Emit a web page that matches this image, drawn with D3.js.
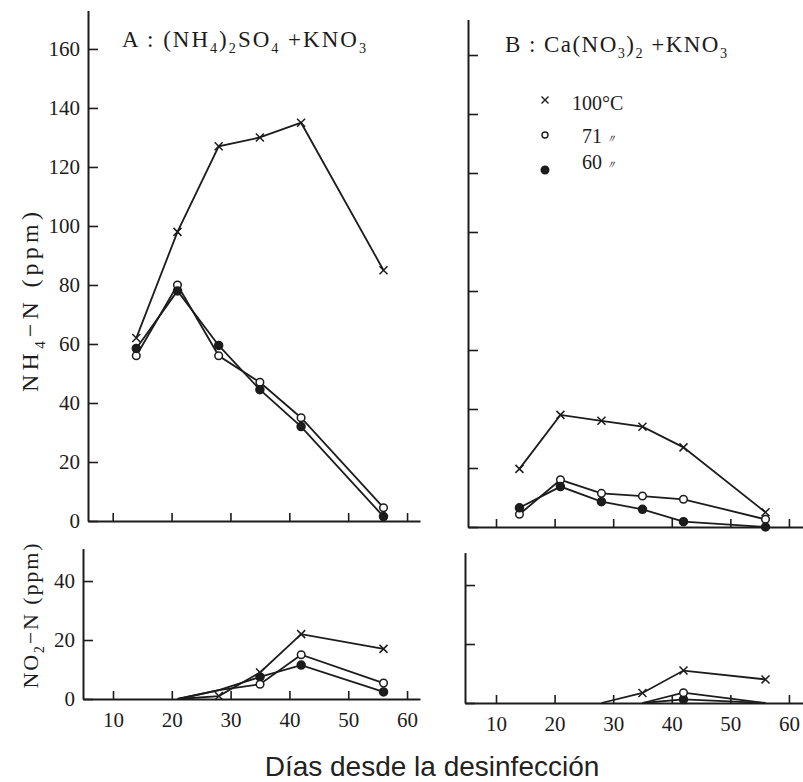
<!DOCTYPE html>
<html><head><meta charset="utf-8">
<script src="https://cdn.jsdelivr.net/npm/d3@7"></script>
<style>html,body{margin:0;padding:0;background:#fff;}svg{display:block;}</style>
</head><body><div id="chart"></div>
<script>
// ---- data ----
const days = [14, 21, 28, 35, 42, 56];
const xTicks = [10, 20, 30, 40, 50, 60];
const nh4Ticks = [0, 20, 40, 60, 80, 100, 120, 140, 160];
const no2Ticks = [0, 20, 40];
const seriesNames = ["100°C", "71", "60"];

const A_NH4_100 = [62, 98, 127, 130, 135, 85];
const A_NH4_71  = [56, 80, 56, 47, 35, 4.5];
const A_NH4_60  = [58.5, 78, 59.5, 44.5, 32, 1.5];

const B_NH4_100 = [19.7, 38, 36, 34, 27, 5];
const B_NH4_71  = [4.3, 16, 11.4, 10.5, 9.4, 2.6];
const B_NH4_60  = [6.5, 13.7, 8.6, 6, 1.8, 0];

const A_NO2_days = [21, 28, 35, 42, 56];
const A_NO2_100 = [0, 1, 9, 22, 17];
const A_NO2_71  = [0, 3, 5, 15, 5.4];
const A_NO2_60  = [0, 3, 7.5, 11.5, 2.4];

const B_NO2_days100 = [28, 35, 42, 56];
const B_NO2_100 = [0, 3.4, 11, 8];
const B_NO2_days = [35, 42, 56];
const B_NO2_71  = [0, 3.5, 0];
const B_NO2_60  = [0, 1.2, 0];

// ---- drawing ----
const W = 803, H = 782;
const ink = "#1c1c1c";
const serif = "'Liberation Serif','Times New Roman',serif";
const svg = d3.select("#chart").append("svg").attr("width", W).attr("height", H)
  .style("background", "#fff");

function panel(cfg) {
  const x = d3.scaleLinear().domain(cfg.xd).range(cfg.xr);
  const y = d3.scaleLinear().domain(cfg.yd).range(cfg.yr);
  const gx = svg.append("g").attr("transform", `translate(0,${cfg.yr[0]})`)
    .call(d3.axisBottom(x).tickValues(xTicks).tickSizeInner(-8).tickSizeOuter(0)
      .tickPadding(13).tickFormat(cfg.xLabels ? d3.format("d") : ""));
  const gy = svg.append("g").attr("transform", `translate(${cfg.xr[0]},0)`)
    .call(d3.axisLeft(y).tickValues(cfg.yTicks).tickSizeInner(-10).tickSizeOuter(0)
      .tickPadding(8).tickFormat(cfg.yLabels ? d3.format("d") : ""));
  [gx, gy].forEach(g => {
    g.select(".domain").attr("stroke", ink).attr("stroke-width", 2);
    g.selectAll(".tick line").attr("stroke", ink).attr("stroke-width", 1.6);
    g.selectAll(".tick text").attr("fill", ink).style("font-family", serif).style("font-size", "21px");
  });
  return {x, y};
}

// markers drawn for points with value > 0 and day >= fromDay
function series(p, xs, ys, kind, fromDay) {
  const pts = xs.map((d, i) => [d, ys[i]]);
  svg.append("path").datum(pts)
    .attr("d", d3.line().x(d => p.x(d[0])).y(d => p.y(d[1])))
    .attr("fill", "none").attr("stroke", ink).attr("stroke-width", 1.8);
  const mp = fromDay !== undefined ? pts.filter(d => d[1] > 0 && d[0] >= fromDay) : pts;
  const g = svg.append("g");
  mp.forEach(d => {
    const cx = p.x(d[0]), cy = p.y(d[1]);
    if (kind === "x") {
      const s = 4;
      g.append("path").attr("d", `M${cx-s},${cy-s}L${cx+s},${cy+s}M${cx-s},${cy+s}L${cx+s},${cy-s}`)
        .attr("stroke", ink).attr("stroke-width", 1.5).attr("fill", "none");
    } else {
      g.append("circle").attr("cx", cx).attr("cy", cy).attr("r", kind === "o" ? 3.8 : 4)
        .attr("fill", kind === "o" ? "#fff" : ink).attr("stroke", ink).attr("stroke-width", 1.5);
    }
  });
}

const pA = panel({xd: [5.8, 62.2], xr: [88, 420], yd: [0, 173], yr: [521, 10.6], yTicks: nh4Ticks, yLabels: true, xLabels: false});
const pAb = panel({xd: [4.9, 62.2], xr: [83, 420], yd: [0, 51], yr: [699, 548.6], yTicks: no2Ticks, yLabels: true, xLabels: true});
const pB = panel({xd: [5.22, 62.4], xr: [468, 803], yd: [0, 172], yr: [527, 19.6], yTicks: nh4Ticks, yLabels: false, xLabels: false});
const pBb = panel({xd: [4.71, 62.4], xr: [465, 803], yd: [0, 51], yr: [703, 552.6], yTicks: no2Ticks, yLabels: false, xLabels: true});

series(pA, days, A_NH4_100, "x");
series(pA, days, A_NH4_71, "o");
series(pA, days, A_NH4_60, "f");
series(pB, days, B_NH4_100, "x");
series(pB, days, B_NH4_71, "o");
series(pB, days, B_NH4_60, "f");
series(pAb, A_NO2_days, A_NO2_100, "x", 0);
series(pAb, A_NO2_days, A_NO2_60, "f", 35);
series(pAb, A_NO2_days, A_NO2_71, "o", 35);
series(pBb, B_NO2_days100, B_NO2_100, "x", 0);
series(pBb, B_NO2_days, B_NO2_60, "f", 0);
series(pBb, B_NO2_days, B_NO2_71, "o", 0);

// rich text helper: parts = [[text, isSub]]
function rich(t, parts, size) {
  let sub = false;
  parts.forEach(([s, isSub]) => {
    const ts = t.append("tspan").text(s);
    if (isSub && !sub) { ts.attr("dy", size * 0.28).style("font-size", (size * 0.62) + "px"); sub = true; }
    else if (isSub) { ts.style("font-size", (size * 0.62) + "px"); }
    else if (!isSub && sub) { ts.attr("dy", -size * 0.28); sub = false; }
  });
}

const tA = svg.append("text").attr("x", 122).attr("y", 47).attr("fill", ink)
  .attr("textLength", 244).attr("lengthAdjust", "spacing")
  .style("font-family", serif).style("font-size", "23px");
rich(tA, [["A : (NH", 0], ["4", 1], [")", 0], ["2", 1], ["SO", 0], ["4", 1], [" +KNO", 0], ["3", 1]], 23);
const tB = svg.append("text").attr("x", 505).attr("y", 52).attr("fill", ink)
  .attr("textLength", 222).attr("lengthAdjust", "spacing")
  .style("font-family", serif).style("font-size", "23px");
rich(tB, [["B : Ca(NO", 0], ["3", 1], [")", 0], ["2", 1], [" +KNO", 0], ["3", 1]], 23);

// y labels
const yl1 = svg.append("text").attr("transform", "translate(38,302) rotate(-90)")
  .attr("text-anchor", "middle").attr("textLength", 180).attr("lengthAdjust", "spacing")
  .attr("fill", ink).style("font-family", serif).style("font-size", "24px");
rich(yl1, [["NH", 0], ["4", 1], ["−N (ppm)", 0]], 24);
const yl2 = svg.append("text").attr("transform", "translate(38,616) rotate(-90)")
  .attr("text-anchor", "middle").attr("textLength", 145).attr("lengthAdjust", "spacing")
  .attr("fill", ink).style("font-family", serif).style("font-size", "22px");
rich(yl2, [["NO", 0], ["2", 1], ["−N (ppm)", 0]], 22);

// legend
const legY = [100, 135, 170];
const legKinds = ["x", "o", "f"];
legKinds.forEach((k, i) => {
  const cx = 545, cy = legY[i];
  if (k === "x") {
    const s = 3.5;
    svg.append("path").attr("d", `M${cx-s},${cy-s}L${cx+s},${cy+s}M${cx-s},${cy+s}L${cx+s},${cy-s}`)
      .attr("stroke", ink).attr("stroke-width", 1.4);
  } else {
    svg.append("circle").attr("cx", cx).attr("cy", cy).attr("r", k === "o" ? 3 : 3.8)
      .attr("fill", k === "o" ? "#fff" : ink).attr("stroke", ink).attr("stroke-width", 1.4);
  }
  const t = svg.append("text").attr("x", i === 0 ? 572 : 582).attr("y", [110, 143, 169][i])
    .attr("fill", ink).style("font-family", serif).style("font-size", "20px");
  t.append("tspan").text(seriesNames[i]);
  if (i > 0) t.append("tspan").text(" 〃").style("font-size", "12px").style("font-style", "italic");
});

svg.append("text").attr("x", 432).attr("y", 776).attr("text-anchor", "middle").attr("fill", "#222")
  .style("font-family", "'Liberation Sans',Arial,sans-serif").style("font-size", "28px")
  .text("Días desde la desinfección");
</script></body></html>
